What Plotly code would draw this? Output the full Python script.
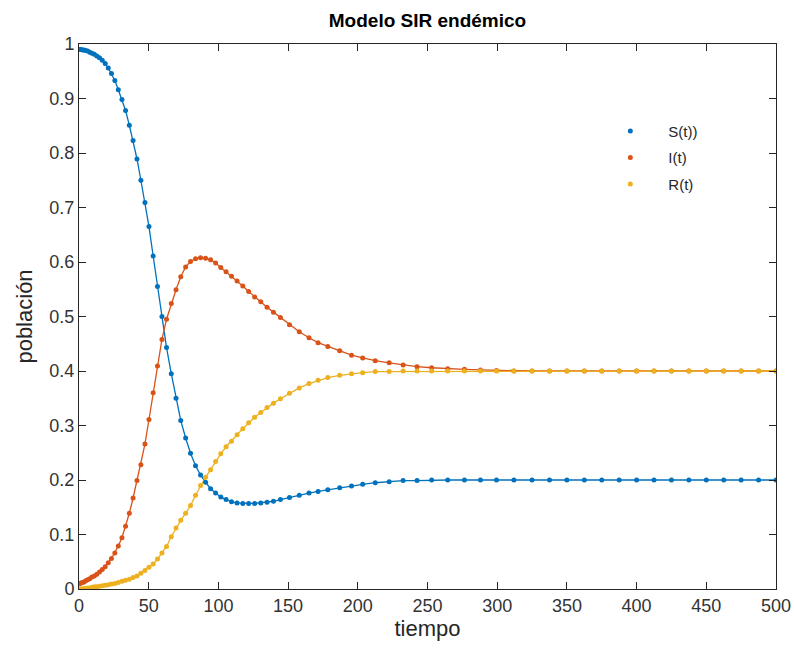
import plotly.graph_objects as go

tiempo = [0, 0.7, 1.5, 2.5, 3.6, 4.8, 6.2, 7.7, 9.3, 11, 12.8, 14.7, 16.7, 18.8, 21, 23.3, 25.7, 28.2,
          30.8, 33.4, 36.1, 38.8, 41.6, 44.4, 47.3, 50.2, 53.2, 56.3, 59.5, 62.8, 66.2, 69.6, 73, 76.5,
          80, 83.6, 87.2, 90.8, 94.4, 98, 101.7, 105.5, 109.4, 113.4, 117.5, 121.7, 126, 130.4, 134.9,
          139.5, 144.5, 151, 158, 165, 171.5, 178.5, 187, 195.5, 203.5, 212.5, 222.5, 232.5, 242.5, 253,
          264.5, 276.5, 288, 299.5, 312, 325, 337.5, 350, 362.5, 375, 387.5, 400, 412.5, 425, 437.5,
          450, 462.5, 475, 487.5, 500]

S = [0.990, 0.990, 0.990, 0.989, 0.989, 0.988, 0.987, 0.985, 0.983, 0.981, 0.978, 0.975, 0.970, 0.964,
     0.956, 0.946, 0.933, 0.916, 0.898, 0.878, 0.851, 0.823, 0.789, 0.750, 0.709, 0.665, 0.611, 0.555,
     0.500, 0.443, 0.395, 0.350, 0.309, 0.277, 0.249, 0.226, 0.209, 0.196, 0.184, 0.176, 0.169, 0.164,
     0.160, 0.158, 0.157, 0.157, 0.157, 0.158, 0.159, 0.161, 0.164, 0.168, 0.172, 0.176, 0.179, 0.182,
     0.186, 0.189, 0.192, 0.195, 0.197, 0.199, 0.199, 0.200, 0.200, 0.200, 0.200, 0.200, 0.200, 0.200,
     0.200, 0.200, 0.200, 0.200, 0.200, 0.200, 0.200, 0.200, 0.200, 0.200, 0.200, 0.200, 0.200, 0.200]

I = [0.010, 0.010, 0.011, 0.012, 0.013, 0.015, 0.017, 0.019, 0.022, 0.024, 0.027, 0.031, 0.036, 0.041,
     0.048, 0.056, 0.066, 0.079, 0.094, 0.115, 0.139, 0.167, 0.199, 0.228, 0.266, 0.311, 0.360, 0.409,
     0.458, 0.495, 0.524, 0.549, 0.573, 0.591, 0.601, 0.606, 0.608, 0.607, 0.604, 0.598, 0.590, 0.582,
     0.574, 0.565, 0.556, 0.546, 0.536, 0.527, 0.517, 0.508, 0.498, 0.485, 0.472, 0.461, 0.452, 0.445,
     0.437, 0.429, 0.424, 0.419, 0.415, 0.411, 0.408, 0.406, 0.404, 0.403, 0.402, 0.401, 0.400, 0.400,
     0.400, 0.400, 0.400, 0.400, 0.400, 0.400, 0.400, 0.400, 0.400, 0.400, 0.400, 0.400, 0.400, 0.400]

R = [0.000, 0.000, 0.000, 0.000, 0.001, 0.001, 0.002, 0.002, 0.003, 0.004, 0.004, 0.005, 0.006, 0.007,
     0.008, 0.009, 0.010, 0.012, 0.014, 0.016, 0.018, 0.021, 0.024, 0.029, 0.034, 0.040, 0.046, 0.055,
     0.066, 0.078, 0.096, 0.112, 0.126, 0.139, 0.153, 0.172, 0.190, 0.205, 0.219, 0.234, 0.248, 0.261,
     0.271, 0.283, 0.294, 0.305, 0.315, 0.324, 0.333, 0.341, 0.349, 0.359, 0.369, 0.377, 0.383, 0.388,
     0.392, 0.395, 0.397, 0.399, 0.399, 0.400, 0.400, 0.400, 0.400, 0.400, 0.400, 0.400, 0.400, 0.400,
     0.400, 0.400, 0.400, 0.400, 0.400, 0.400, 0.400, 0.400, 0.400, 0.400, 0.400, 0.400, 0.400, 0.400]

series_names = ["S(t))", "I(t)", "R(t)"]
series_colors = ["#0072BD", "#D95319", "#EDB120"]
series_values = [S, I, R]

FONT = "Liberation Sans, Arial, Helvetica, sans-serif"
DARK = "#262626"

fig = go.Figure()
for name, col, vals in zip(series_names, series_colors, series_values):
    fig.add_trace(go.Scatter(x=tiempo, y=vals, mode="lines", line=dict(color=col, width=1.3),
                             showlegend=False, hoverinfo="skip"))
for i, (name, col, vals) in enumerate(zip(series_names, series_colors, series_values)):
    fig.add_trace(go.Scatter(x=tiempo, y=vals, mode="markers", name=name, legendgroup=str(i),
                             marker=dict(color=col, size=5, symbol="circle")))

axis_common = dict(showline=True, linecolor=DARK, linewidth=1, mirror="allticks", ticks="inside",
                   ticklen=7, tickwidth=1, tickcolor=DARK, showgrid=False, zeroline=False,
                   automargin=False, tickfont=dict(family=FONT, size=18, color="#333333"))

fig.update_layout(
    width=794, height=657,
    margin=dict(l=79, r=18, t=44, b=68),
    paper_bgcolor="white", plot_bgcolor="white",
    title=dict(text="<b>Modelo SIR endémico</b>", x=(79 + 776) / 2 / 794, xanchor="center",
               y=1 - 20 / 657, yanchor="middle", font=dict(family=FONT, size=19, color="black")),
    xaxis=dict(range=[0, 500], dtick=50, tick0=0,
               title=dict(text="tiempo", font=dict(family=FONT, size=22, color=DARK), standoff=5),
               **axis_common),
    yaxis=dict(range=[0, 1], dtick=0.1, tick0=0,
               title=dict(text="población", font=dict(family=FONT, size=22, color=DARK), standoff=10),
               **axis_common),
    legend=dict(x=0.7365, y=0.87, xanchor="left", yanchor="top", bgcolor="rgba(0,0,0,0)",
                font=dict(family=FONT, size=15, color=DARK), tracegroupgap=4, traceorder="grouped",
                itemwidth=66),
)

fig.write_html("out.html")
